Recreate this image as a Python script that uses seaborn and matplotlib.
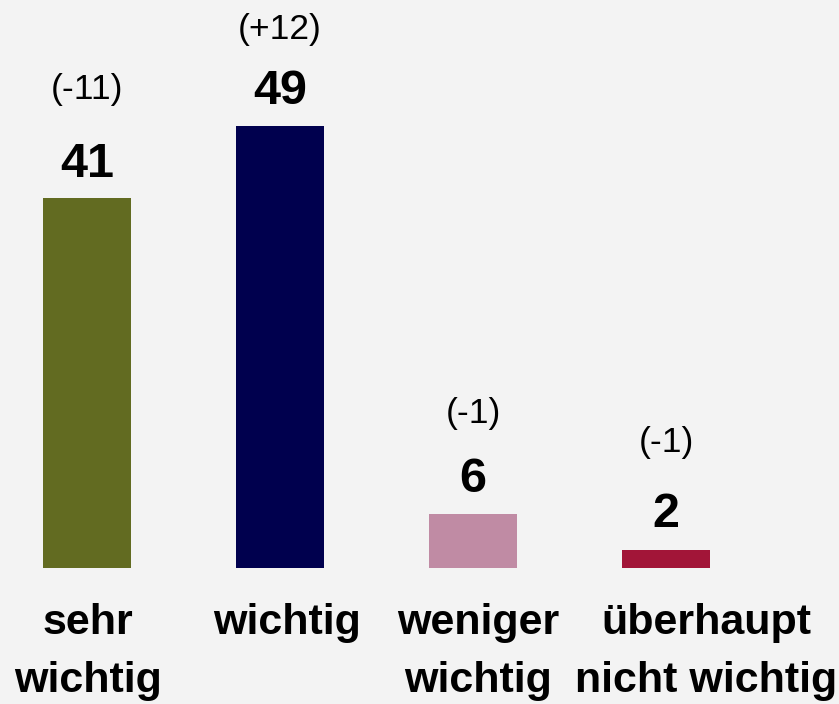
import matplotlib
matplotlib.use("Agg")
import matplotlib.pyplot as plt
import matplotlib.transforms as mtransforms
import seaborn as sns
import pandas as pd

categories = ["sehr\nwichtig", "wichtig", "weniger\nwichtig", "überhaupt\nnicht wichtig"]
values = [41, 49, 6, 2]
changes = ["(-11)", "(+12)", "(-1)", "(-1)"]
colors = ["#626b21", "#00004e", "#c08ba4", "#a21538"]

sns.set_theme(style="white")
plt.rcParams["font.family"] = ["Liberation Sans", "DejaVu Sans"]
BG = "#f3f3f3"

W, H = 839, 704
fig = plt.figure(figsize=(W / 100, H / 100), dpi=100, facecolor=BG)
base_px = 568
ax = fig.add_axes([0, (H - base_px) / H, 1, base_px / H])
ax.set_facecolor(BG)

df = pd.DataFrame({"cat": categories, "val": values})
sns.barplot(data=df, x="cat", y="val", hue="cat", palette=colors, order=categories,
            hue_order=categories, width=0.456, legend=False, ax=ax, saturation=1,
            linewidth=0, edgecolor="none")

px_per_unit = 9.02
ax.set_ylim(0, base_px / px_per_unit)
ax.set_xlim(-0.45, 3.896)
for s in ax.spines.values():
    s.set_visible(False)
ax.set_ylabel("")
ax.set_xlabel("")
ax.set_yticks([])
ax.tick_params(axis="x", length=0, pad=25, labelsize=31, labelcolor="black")
for lbl in ax.get_xticklabels():
    lbl.set_fontweight("bold")
    lbl.set_linespacing(1.6)

# per-label horizontal nudges (pixels)
nudges = [1, 7, 5, 40]
for lbl, dx in zip(ax.get_xticklabels(), nudges):
    lbl.set_transform(lbl.get_transform() + mtransforms.ScaledTranslation(dx / 100, 0, fig.dpi_scale_trans))

val_gap = [21, 22, 22, 23]
chg_gap = [99, 87, 91, 98]
for i, (v, c) in enumerate(zip(values, changes)):
    ax.annotate(str(v), xy=(i, v), xytext=(0, val_gap[i]), textcoords="offset pixels",
                ha="center", va="baseline", fontsize=35, fontweight="bold", color="black")
    ax.annotate(c, xy=(i, v), xytext=(0, chg_gap[i]), textcoords="offset pixels",
                ha="center", va="baseline", fontsize=25.5, color="black")

fig.savefig("out.png", dpi=100, facecolor=BG)
